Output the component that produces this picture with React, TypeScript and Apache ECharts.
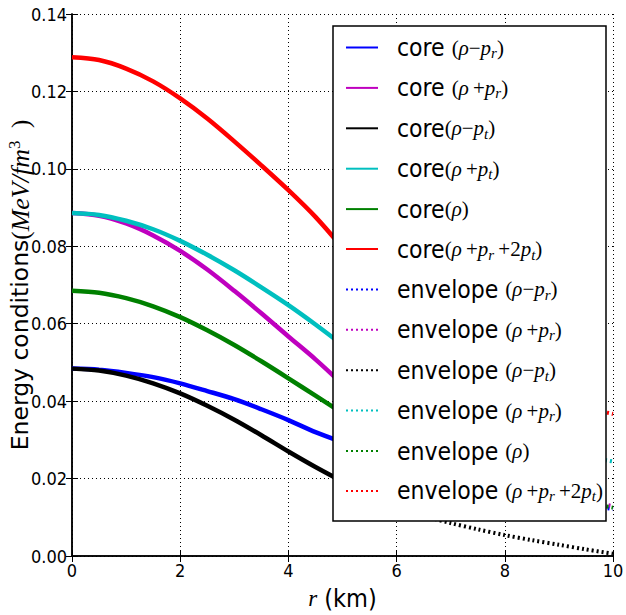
import React, { useEffect, useRef } from "react";
import * as echarts from "echarts";

// radial coordinate (km)
const coreR = [0, 0.5, 1, 1.5, 2, 2.5, 3, 3.5, 4, 4.5, 5, 5.5];
const envR = [5.5, 6, 6.5, 7, 7.5, 8, 8.5, 9, 9.5, 10];

// core curves (MeV/fm^3)
const coreRhoMinusPr = [0.0484, 0.0481, 0.0473, 0.0462, 0.0446, 0.0426, 0.0405, 0.0379, 0.0351, 0.032, 0.0294, 0.027];
const coreRhoPlusPr = [0.0886, 0.0879, 0.0859, 0.0828, 0.0788, 0.074, 0.0685, 0.0627, 0.0567, 0.0508, 0.0444, 0.038];
const coreRhoMinusPt = [0.0484, 0.0479, 0.0466, 0.0446, 0.042, 0.0388, 0.0352, 0.0312, 0.027, 0.023, 0.0193, 0.016];
const coreRhoPlusPt = [0.0886, 0.0881, 0.0866, 0.0844, 0.0814, 0.0778, 0.0738, 0.0694, 0.0648, 0.0598, 0.0545, 0.049];
const coreRho = [0.0685, 0.068, 0.0666, 0.0645, 0.0617, 0.0583, 0.0545, 0.0503, 0.0459, 0.0414, 0.0369, 0.0325];
const coreSEC = [0.1288, 0.1281, 0.1259, 0.1226, 0.1182, 0.113, 0.1071, 0.1009, 0.0945, 0.0876, 0.0796, 0.071];

// envelope curves (MeV/fm^3)
const envRhoMinusPr = [0.027, 0.0248, 0.0228, 0.0208, 0.019, 0.0173, 0.0157, 0.0144, 0.0132, 0.0121];
const envRhoPlusPr = [0.038, 0.0332, 0.0292, 0.0256, 0.0224, 0.0197, 0.0175, 0.0156, 0.0142, 0.0129];
const envRhoMinusPt = [0.016, 0.0128, 0.0104, 0.0085, 0.0069, 0.0054, 0.0041, 0.0029, 0.0017, 0.0006];
const envRhoPlusPt = [0.049, 0.0452, 0.0416, 0.0379, 0.0345, 0.0316, 0.0291, 0.0271, 0.0257, 0.0244];
const envRho = [0.0325, 0.029, 0.026, 0.0232, 0.0207, 0.0185, 0.0166, 0.015, 0.0137, 0.0125];
const envSEC = [0.071, 0.0656, 0.0604, 0.055, 0.05, 0.0459, 0.0425, 0.0398, 0.0382, 0.0367];

const seriesKeys = ["c1", "c2", "c3", "c4", "c5", "c6", "e1", "e2", "e3", "e4", "e5", "e6"];
const seriesLabels = [
  "{t|core }{r|(}{m|ρ}{r|−}{m|p}{s|r}{r|)}",
  "{t|core }{r|(}{m|ρ}{r|\u2009+}{m|p}{s|r}{r|)}",
  "{t|core}{r|(}{m|ρ}{r|−}{m|p}{s|t}{r|)}",
  "{t|core}{r|(}{m|ρ}{r|\u2009+}{m|p}{s|t}{r|)}",
  "{t|core}{r|(}{m|ρ}{r|)}",
  "{t|core}{r|(}{m|ρ}{r|\u2009+}{m|p}{s|r}{r|\u2009+2}{m|p}{s|t}{r|)}",
  "{t|envelope }{r|(}{m|ρ}{r|−}{m|p}{s|r}{r|)}",
  "{t|envelope }{r|(}{m|ρ}{r|\u2009+}{m|p}{s|r}{r|)}",
  "{t|envelope }{r|(}{m|ρ}{r|−}{m|p}{s|t}{r|)}",
  "{t|envelope }{r|(}{m|ρ}{r|\u2009+}{m|p}{s|r}{r|)}",
  "{t|envelope }{r|(}{m|ρ}{r|)}",
  "{t|envelope }{r|(}{m|ρ}{r|\u2009+}{m|p}{s|r}{r|\u2009+2}{m|p}{s|t}{r|)}",
];
const seriesColors = ["#0000ff", "#bf00bf", "#000000", "#00bfbf", "#008000", "#ff0000",
  "#0000ff", "#bf00bf", "#000000", "#00bfbf", "#008000", "#ff0000"];
const seriesValues = [coreRhoMinusPr, coreRhoPlusPr, coreRhoMinusPt, coreRhoPlusPt, coreRho, coreSEC,
  envRhoMinusPr, envRhoPlusPr, envRhoMinusPt, envRhoPlusPt, envRho, envSEC];

const NARROW = "'Liberation Sans Narrow', 'DejaVu Sans Condensed', 'Liberation Sans', sans-serif";
const SERIF = "'Liberation Serif', 'DejaVu Serif', serif";

export default function App() {
  const ref = useRef<HTMLDivElement>(null);
  useEffect(() => {
    if (!ref.current) return;
    const chart = echarts.init(ref.current, undefined, { renderer: "svg" });
    const labelMap: Record<string, string> = {};
    seriesKeys.forEach((k, i) => (labelMap[k] = seriesLabels[i]));

    const series = seriesKeys.map((k, i) => {
      const isEnv = i >= 6;
      const xs = isEnv ? envR : coreR;
      return {
        name: k,
        type: "line",
        xAxisIndex: 0,
        yAxisIndex: 0,
        data: xs.map((r, j) => [r, seriesValues[i][j]]),
        showSymbol: false,
        symbol: "none",
        smooth: 0.3,
        lineStyle: {
          color: seriesColors[i],
          width: isEnv ? 4 : 4.5,
          type: isEnv ? [2, 3] : "solid",
          cap: "butt",
        },
        itemStyle: { color: seriesColors[i] },
        z: 2,
      };
    });

    const tickLabel = { fontFamily: NARROW, fontSize: 18, color: "#000" };
    const axisLine = { show: true, lineStyle: { color: "#000", width: 1.5 } };
    const splitLine = { show: true, lineStyle: { color: "#000", width: 1, type: [1, 3] } };
    const tick = { show: true, inside: true, length: 6, lineStyle: { color: "#000", width: 1 } };

    chart.setOption({
      animation: false,
      backgroundColor: "#fff",
      grid: { left: 72, right: 13, top: 14, bottom: 59, containLabel: false, outerBoundsMode: "none" },
      xAxis: [
        {
          type: "value", position: "bottom", min: 0, max: 10, interval: 2,
          axisLine, axisTick: tick, splitLine,
          axisLabel: { ...tickLabel, margin: 5 },
          name: "{xm|r}{xt| (km)}",
          nameLocation: "middle",
          nameGap: 28,
          nameTextStyle: {
            rich: {
              xm: { fontFamily: SERIF, fontStyle: "italic", fontSize: 23, lineHeight: 28, color: "#000" },
              xt: { fontFamily: NARROW, fontSize: 25, lineHeight: 28, color: "#000" },
            },
          },
        },
        {
          type: "value", position: "top", min: 0, max: 10, interval: 2,
          axisLine, axisTick: tick, splitLine: { show: false }, axisLabel: { show: false },
        },
      ],
      yAxis: [
        {
          type: "value", position: "left", min: 0, max: 0.14, interval: 0.02,
          axisLine, axisTick: tick, splitLine,
          axisLabel: { ...tickLabel, margin: 5, formatter: (v: number) => v.toFixed(2) },
          name: "{yt|Energy conditions}{yr|(}{ym|MeV/fm}{ysup|3}{yr|\u2002)}",
          nameLocation: "middle",
          nameRotate: 90,
          nameGap: 38,
          nameMoveOverlap: false,
          nameTextStyle: {
            rich: {
              yt: { fontFamily: "'DejaVu Sans', sans-serif", fontSize: 23.5, lineHeight: 28, color: "#000" },
              yr: { fontFamily: SERIF, fontSize: 25, lineHeight: 28, color: "#000" },
              ym: { fontFamily: SERIF, fontStyle: "italic", fontSize: 26, lineHeight: 28, color: "#000" },
              ysup: { fontFamily: SERIF, fontSize: 17, lineHeight: 10, verticalAlign: "top", color: "#000" },
            },
          },
        },
        {
          type: "value", position: "right", min: 0, max: 0.14, interval: 0.02,
          axisLine, axisTick: tick, splitLine: { show: false }, axisLabel: { show: false },
        },
      ],
      graphic: [
        {
          type: "rect",
          z: 5,
          shape: { x: 333, y: 26, width: 273, height: 495 },
          style: { fill: "#fff", stroke: "#000", lineWidth: 1.5 },
        },
      ],
      legend: {
        show: true,
        z: 10,
        orient: "vertical",
        left: 345,
        top: 35,
        padding: 0,
        itemWidth: 32,
        itemHeight: 14,
        itemGap: 14.9,
        selectedMode: false,
        data: seriesKeys,
        formatter: (name: string) => labelMap[name],
        itemStyle: { opacity: 0, color: "rgba(0,0,0,0)", borderWidth: 0 },
        textStyle: {
          padding: [0, 0, 0, 14],
          rich: {
            t: { fontFamily: NARROW, fontSize: 24.5, lineHeight: 26, color: "#000" },
            r: { fontFamily: SERIF, fontSize: 21, lineHeight: 26, color: "#000" },
            m: { fontFamily: SERIF, fontStyle: "italic", fontSize: 21, lineHeight: 26, color: "#000" },
            s: { fontFamily: SERIF, fontStyle: "italic", fontSize: 15, lineHeight: 3, verticalAlign: "bottom", color: "#000" },
          },
        },
      },
      series,
    });
    return () => chart.dispose();
  }, []);
  return (
    <div
      ref={ref}
      style={{ position: "fixed", left: 0, top: 0, width: 626, height: 615, background: "#fff" }}
    />
  );
}
